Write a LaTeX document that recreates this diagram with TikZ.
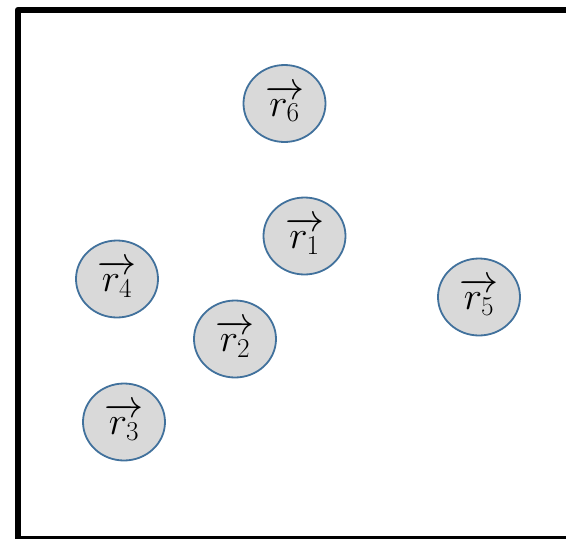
\RequirePackage{fix-cm}
\documentclass[tikz,border=0pt]{standalone}
\usepackage{amsmath,amssymb}
\usepackage{xcolor}
\usepackage{tikz}
\usetikzlibrary{shapes.geometric}
\definecolor{pfill}{HTML}{D9D9D9}
\definecolor{pline}{HTML}{41719C}

\begin{document}
\begin{tikzpicture}[x=1pt,y=-1pt,
  particle/.style={ellipse,draw=pline,fill=pfill,line width=1.8pt,inner sep=0pt,
    minimum width=82pt,minimum height=77pt,font=\fontsize{39}{44}\selectfont},
  wall/.style={line width=6.5pt,line join=round}]
\useasboundingbox (0,0) rectangle (566,539);
% container
\begin{scope}
\clip (0,0) rectangle (566,539);
\draw[wall] (18,580) -- (18,10) -- (600,10);
\draw[wall] (18,539) -- (600,539);
\end{scope}
% particles
\foreach \n/\x/\y in {6/284.5/103.5, 1/304.5/236, 4/117/279, 5/479/297, 2/235/339, 3/124/422}{
  \node[particle] (r\n) at (\x,\y) {$\overrightarrow{r_{\n}}$};}
\end{tikzpicture}
\end{document}
